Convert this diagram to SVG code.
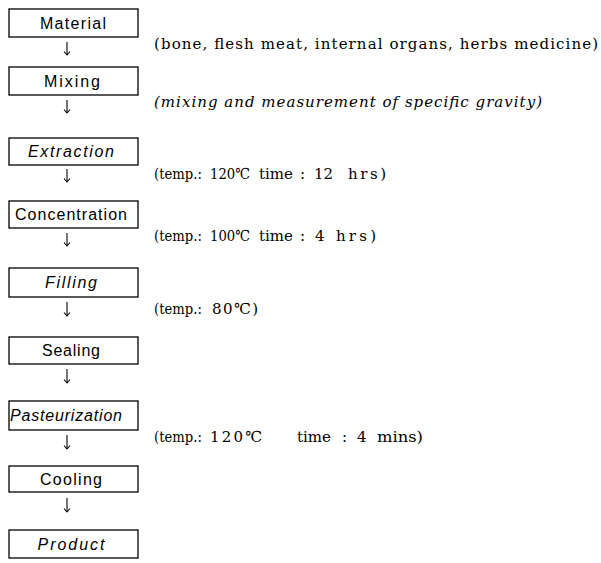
<svg xmlns="http://www.w3.org/2000/svg" width="601" height="563" viewBox="0 0 601 563">
<style>
.box{fill:#fff;stroke:#000;stroke-width:1.3}
.lbl{font-family:"Liberation Sans",Arial,sans-serif;font-size:16px;fill:#000;text-anchor:middle}
.it{font-style:italic}
.ann{font-family:"DejaVu Serif","Liberation Serif",serif;font-size:15px;fill:#000}
.conn{stroke:#000;stroke-width:1.1;fill:none}
</style>
<defs>
<marker id="ah" viewBox="0 0 8 8" refX="7.5" refY="4" markerWidth="8" markerHeight="8" markerUnits="userSpaceOnUse" orient="auto">
<path d="M4,1 L7.5,4 L4,7" fill="none" stroke="#000" stroke-width="1.1"/>
</marker>
</defs>
<g id="connectors">
<line class="conn" x1="67" y1="42" x2="67" y2="55" marker-end="url(#ah)"/>
<line class="conn" x1="67" y1="100" x2="67" y2="113" marker-end="url(#ah)"/>
<line class="conn" x1="67" y1="169" x2="67" y2="182" marker-end="url(#ah)"/>
<line class="conn" x1="67" y1="233" x2="67" y2="246" marker-end="url(#ah)"/>
<line class="conn" x1="67" y1="302" x2="67" y2="316" marker-end="url(#ah)"/>
<line class="conn" x1="67" y1="369" x2="67" y2="383" marker-end="url(#ah)"/>
<line class="conn" x1="67" y1="435" x2="67" y2="449" marker-end="url(#ah)"/>
<line class="conn" x1="67" y1="498" x2="67" y2="512" marker-end="url(#ah)"/>
</g>
<g id="material">
<rect class="box" x="9" y="9" width="129" height="28"/>
<text class="lbl" x="73" y="29" textLength="66" lengthAdjust="spacing">Material</text>
</g>
<g id="mixing">
<rect class="box" x="9" y="67" width="129" height="28"/>
<text class="lbl" x="72" y="87" textLength="56" lengthAdjust="spacing">Mixing</text>
</g>
<g id="extraction">
<rect class="box" x="9" y="138" width="129" height="27"/>
<text class="lbl it" x="71" y="157" textLength="86" lengthAdjust="spacing">Extraction</text>
</g>
<g id="concentration">
<rect class="box" x="9" y="201" width="129" height="27"/>
<text class="lbl" x="71" y="220" textLength="112" lengthAdjust="spacing">Concentration</text>
</g>
<g id="filling">
<rect class="box" x="9" y="268" width="129" height="29"/>
<text class="lbl it" x="71" y="288" textLength="52" lengthAdjust="spacing">Filling</text>
</g>
<g id="sealing">
<rect class="box" x="9" y="337" width="129" height="27"/>
<text class="lbl" x="71" y="356" textLength="58" lengthAdjust="spacing">Sealing</text>
</g>
<g id="pasteurization">
<rect class="box" x="9" y="401" width="129" height="29"/>
<text class="lbl it" x="66" y="421" textLength="112" lengthAdjust="spacing">Pasteurization</text>
</g>
<g id="cooling">
<rect class="box" x="9" y="466" width="129" height="26"/>
<text class="lbl" x="71" y="485" textLength="62" lengthAdjust="spacing">Cooling</text>
</g>
<g id="product">
<rect class="box" x="9" y="530" width="129" height="28"/>
<text class="lbl it" x="71" y="550" textLength="67" lengthAdjust="spacing">Product</text>
</g>
<g id="annotations">
<text class="ann" x="154" y="49" textLength="444" lengthAdjust="spacing">(bone, flesh meat, internal organs, herbs medicine)</text>
<text class="ann it" x="154" y="107" textLength="388" lengthAdjust="spacing">(mixing and measurement of specific gravity)</text>
<text class="ann" y="179"><tspan x="154" textLength="48" lengthAdjust="spacingAndGlyphs">(temp.:</tspan><tspan x="210" textLength="40" lengthAdjust="spacingAndGlyphs">120℃</tspan><tspan x="259">time</tspan><tspan x="300">:</tspan><tspan x="314">12</tspan><tspan x="348" textLength="38" lengthAdjust="spacing">hrs)</tspan></text>
<text class="ann" y="241"><tspan x="154" textLength="48" lengthAdjust="spacingAndGlyphs">(temp.:</tspan><tspan x="210" textLength="40" lengthAdjust="spacingAndGlyphs">100℃</tspan><tspan x="259">time</tspan><tspan x="300">:</tspan><tspan x="315">4</tspan><tspan x="336" textLength="40" lengthAdjust="spacing">hrs)</tspan></text>
<text class="ann" y="314"><tspan x="154" textLength="48" lengthAdjust="spacingAndGlyphs">(temp.:</tspan><tspan x="212" textLength="46" lengthAdjust="spacing">80℃)</tspan></text>
<text class="ann" y="442"><tspan x="154" textLength="48" lengthAdjust="spacingAndGlyphs">(temp.:</tspan><tspan x="210" textLength="52" lengthAdjust="spacing">120℃</tspan><tspan x="297">time</tspan><tspan x="342">:</tspan><tspan x="357">4</tspan><tspan x="377" textLength="46" lengthAdjust="spacingAndGlyphs">mins)</tspan></text>
</g>
</svg>
